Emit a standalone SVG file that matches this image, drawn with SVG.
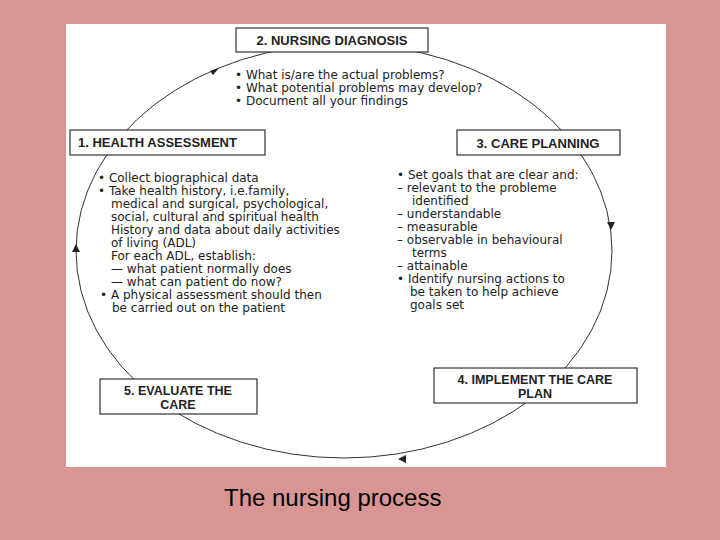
<svg xmlns="http://www.w3.org/2000/svg" width="720" height="540" viewBox="0 0 720 540">
<style>
.box{fill:#fff;stroke:#333;stroke-width:1.2}
.lbl{font-family:"Liberation Sans",Arial,sans-serif;font-weight:bold;font-size:13px;fill:#222}
.lb2{font-family:"Liberation Sans",Arial,sans-serif;font-weight:bold;font-size:12.5px;fill:#222}
.t{font-family:"DejaVu Sans",sans-serif;font-size:12px;fill:#222}
.ar{fill:#222}
</style>
<rect width="720" height="540" fill="#D99594"/>
<rect x="66" y="24" width="600" height="443" fill="#fff"/>
<g id="connectors">
<ellipse cx="344" cy="251" rx="268" ry="207" fill="none" stroke="#333" stroke-width="1"/>
<path class="ar" d="M219,68 l-9,3 l3,4 z"/>
<path class="ar" d="M611,230 l-4,-8 l8,0 z"/>
<path class="ar" d="M398,459 l8,-4 l0,8 z"/>
<path class="ar" d="M76,244 l-4,8 l8,0 z"/>
</g>
<g id="n2">
<rect class="box" x="236" y="28" width="192" height="24"/>
<text class="lbl" x="332" y="45" text-anchor="middle">2. NURSING DIAGNOSIS</text>
<text class="t" x="235" y="79">• What is/are the actual problems?</text>
<text class="t" x="235" y="92">• What potential problems may develop?</text>
<text class="t" x="235" y="105">• Document all your findings</text>
</g>
<g id="n1">
<rect class="box" x="70" y="130" width="195" height="25"/>
<text class="lbl" x="78" y="147">1. HEALTH ASSESSMENT</text>
<text class="t" x="98" y="182">•  Collect biographical data</text>
<text class="t" x="98" y="195">•  Take health history, i.e.family,</text>
<text class="t" x="111" y="208">medical and surgical, psychological,</text>
<text class="t" x="111" y="221">social, cultural and spiritual health</text>
<text class="t" x="111" y="234">History and data about daily activities</text>
<text class="t" x="111" y="247">of living (ADL)</text>
<text class="t" x="111" y="260">For each ADL, establish:</text>
<text class="t" x="111" y="273">—  what patient normally does</text>
<text class="t" x="111" y="286">—  what can patient do now?</text>
<text class="t" x="100" y="299">•  A physical assessment should then</text>
<text class="t" x="112" y="312">be carried out on the patient</text>
</g>
<g id="n3">
<rect class="box" x="457" y="130" width="163" height="25"/>
<text class="lbl" x="538" y="148" text-anchor="middle">3. CARE PLANNING</text>
<text class="t" x="397" y="179">•  Set goals that are clear and:</text>
<text class="t" x="397" y="192">–  relevant to the probleme</text>
<text class="t" x="412" y="205">identified</text>
<text class="t" x="397" y="218">–  understandable</text>
<text class="t" x="397" y="231">–  measurable</text>
<text class="t" x="397" y="244">–  observable in behavioural</text>
<text class="t" x="412" y="257">terms</text>
<text class="t" x="397" y="270">–  attainable</text>
<text class="t" x="397" y="283">•  Identify nursing actions to</text>
<text class="t" x="410" y="296">be taken to help achieve</text>
<text class="t" x="410" y="309">goals set</text>
</g>
<g id="n4">
<rect class="box" x="434" y="368" width="203" height="35"/>
<text class="lb2" x="535" y="384" text-anchor="middle">4. IMPLEMENT THE CARE</text>
<text class="lb2" x="535" y="398" text-anchor="middle">PLAN</text>
</g>
<g id="n5">
<rect class="box" x="100" y="379" width="157" height="35"/>
<text class="lb2" x="178" y="395" text-anchor="middle">5. EVALUATE THE</text>
<text class="lb2" x="178" y="409" text-anchor="middle">CARE</text>
</g>
<text x="224" y="506" font-family="Liberation Sans,Arial,sans-serif" font-size="24" fill="#000">The nursing process</text>
</svg>
